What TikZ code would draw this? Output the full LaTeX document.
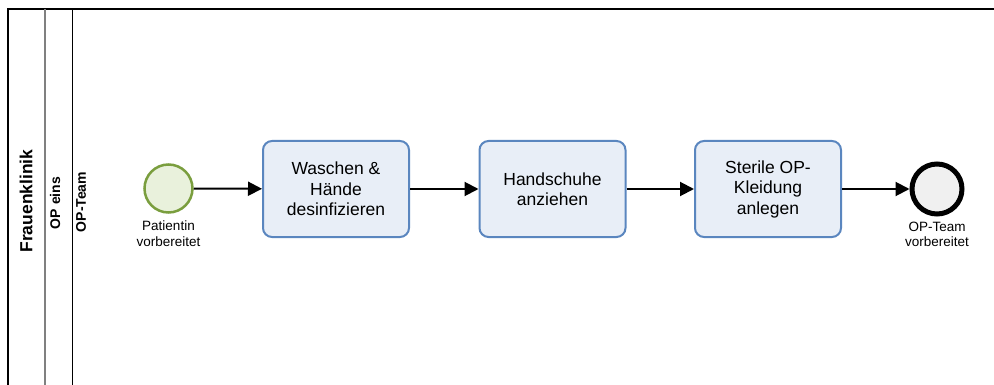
\documentclass[tikz,border=0pt]{standalone}
\usepackage{fontspec}
\setmainfont{Liberation Sans}
\usepackage{xcolor}
\usepackage{tikz}
\usetikzlibrary{arrows.meta,positioning}
\definecolor{taskline}{HTML}{5A86BF}
\definecolor{taskfill}{HTML}{E8EEF7}
\definecolor{startline}{HTML}{7A9E3E}
\definecolor{startfill}{HTML}{E9F1DC}
\definecolor{endfill}{HTML}{F0F0F0}
\definecolor{laneline}{HTML}{808080}
\tikzset{
  task/.style={draw=taskline,fill=taskfill,line width=2pt,rounded corners=9pt,minimum width=146pt,minimum height=96pt,
               align=center,inner sep=2pt,font=\fontsize{17.5}{20.5}\selectfont},
  startev/.style={circle,draw=startline,fill=startfill,line width=2.5pt,minimum size=48pt,inner sep=0pt},
  endev/.style={circle,draw=black,fill=endfill,line width=5pt,minimum size=50pt,inner sep=0pt},
  evlbl/.style={font=\fontsize{13.5}{15.5}\selectfont,align=center,inner sep=1pt},
  flow/.style={-{Triangle[length=14pt,width=14pt]},line width=2pt},
  lanelbl/.style={rotate=90,font=\bfseries\fontsize{#1}{#1}\selectfont,inner sep=0pt},
  lanelbl/.default=14,
}
\begin{document}
\begin{tikzpicture}[x=1pt,y=-1pt]
  \useasboundingbox (0,0) rectangle (994,385);
  \clip (0,0) rectangle (994,385);
  % pool and lane headers
  \draw[line width=2.5pt] (8,400) -- (8,9) -- (1000,9);
  \draw[laneline,line width=1.5pt] (45,9) -- (45,400);
  \draw[line width=1pt] (72,9) -- (72,400);
  \node[lanelbl=17.5] (pool) at (26,201) {Frauenklinik};
  \node[lanelbl=14] (lane) at (55,203) {OP eins};
  \node[lanelbl=14] (team) at (81,202) {OP-Team};
  % process
  \node[startev] (start) at (168.5,188.5) {};
  \node[evlbl,below=6pt of start] (startlbl) {Patientin\\vorbereitet};
  \node[task] (wash) at (336,189) {Waschen \&\\Hände\\desinfizieren};
  \node[task] (gloves) at (552.5,189) {Handschuhe\\anziehen};
  \node[task] (dress) at (768,189) {Sterile OP-\\Kleidung\\anlegen};
  \node[endev] (end) at (937,189) {};
  \node[evlbl,below=4pt of end] (endlbl) {OP-Team\\vorbereitet};
  \draw[flow] (start) -- (wash);
  \draw[flow] (wash) -- (gloves);
  \draw[flow] (gloves) -- (dress);
  \draw[flow] (dress) -- (end);
\end{tikzpicture}
\end{document}
